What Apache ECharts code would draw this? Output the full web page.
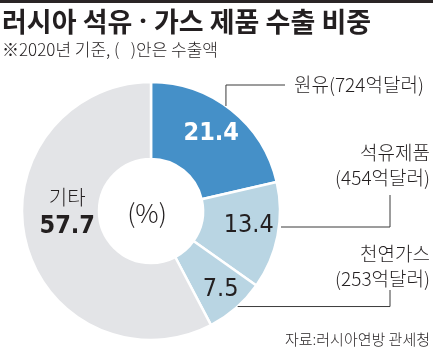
<!DOCTYPE html>
<html><head><meta charset="utf-8">
<script src="https://cdn.jsdelivr.net/npm/echarts@6/dist/echarts.min.js"></script>
<style>html,body{margin:0;padding:0;background:#fff}#c{width:433px;height:355px}#topline{position:absolute;left:0;top:0;width:433px;height:3px;background:#2a2526;z-index:5}</style>
</head><body><div id="c"></div><div id="topline"></div>
<script>
const titleText = '러시아 석유{d| · }가스 제품 수출 비중';
const subtitleText = '※2020년 기준, (   )안은 수출액';
const sourceText = '자료:러시아연방 관세청';
const unitText = '(%)';
const categories = ['원유', '석유제품', '천연가스', '기타'];
const shares = [21.4, 13.4, 7.5, 57.7];           // %
const exportAmounts = [724, 454, 253, null];       // 억달러

const CX = 151, CY = 211, R0 = 52, R = 129;
const KR = '"Noto Sans CJK KR", "Noto Sans", sans-serif';
const NUM = '"Liberation Sans Narrow", "DejaVu Sans Condensed", "Liberation Sans", Arial, sans-serif';
const colors = ['#4590c8', '#b9d5e3', '#b9d5e3', '#e3e4e7'];
const TXT = '#231f20';

function midAngle(i) { // degrees clockwise from top
  let s = 0; for (let k = 0; k < i; k++) s += shares[k];
  const tot = shares.reduce((a, b) => a + b, 0);
  return (s + shares[i] / 2) / tot * 360;
}
function edge(a) { const r = a * Math.PI / 180; return [CX + R * Math.sin(r), CY - R * Math.cos(r)]; }

const insideStyles = [
  { color: '#fff', fontWeight: 'bold', offset: [2, -4] },
  { color: TXT, fontWeight: 'normal', offset: [6, -4] },
  { color: TXT, fontWeight: 'normal', offset: [8, 8] },
  { color: TXT, fontWeight: 'bold', offset: [7, -21] }
];

const chart = echarts.init(document.getElementById('c'), null, { renderer: 'canvas' });
chart.setOption({
  animation: false,
  title: [
    { text: titleText, left: 2, top: 7, padding: 0, itemGap: 3,
      textStyle: { fontFamily: KR, fontSize: 27, fontWeight: 'bold', color: TXT, lineHeight: 30,
        rich: { d: { fontFamily: '"Noto Sans", sans-serif', fontSize: 27, fontWeight: 'bold', color: TXT, lineHeight: 30 } } },
      subtext: subtitleText,
      subtextStyle: { fontFamily: KR, fontSize: 17, fontWeight: 300, color: TXT, lineHeight: 20 } },
    { text: sourceText, right: 3, bottom: 8, padding: 0,
      textStyle: { fontFamily: KR, fontSize: 15, fontWeight: 300, color: TXT } }
  ],
  graphic: [{ type: 'text', x: 147, y: 213, style: { text: unitText, fontFamily: KR, fontSize: 26, fontWeight: 300, fill: TXT, textAlign: 'center', textVerticalAlign: 'middle' } }],
  series: [
    {
      type: 'pie', center: [CX, CY], radius: [R0, R], startAngle: 90, clockwise: true, silent: true,
      itemStyle: { borderColor: '#fff', borderWidth: 2.5 },
      label: { show: true, position: 'inside', fontFamily: NUM, fontSize: 25 },
      labelLine: { show: false },
      data: categories.map((c, i) => ({
        name: c, value: shares[i],
        itemStyle: { color: colors[i] },
        label: Object.assign({}, insideStyles[i], i === 3 ? {
          formatter: '{n|' + c + '}\n{v|' + shares[i].toFixed(1) + '}',
          rich: {
            n: { fontFamily: KR, fontSize: 20, fontWeight: 300, color: TXT, lineHeight: 28 },
            v: { fontFamily: NUM, fontSize: 25, fontWeight: 'bold', color: TXT, lineHeight: 30 }
          }
        } : { formatter: shares[i].toFixed(1) })
      }))
    },
    {
      type: 'pie', center: [CX, CY], radius: [R0, R], startAngle: 90, clockwise: true, silent: true, z: 3,
      itemStyle: { color: 'transparent', borderWidth: 0 },
      label: { show: true, position: 'outside', fontFamily: KR, fontSize: 19, fontWeight: 300, color: TXT, lineHeight: 25,
        formatter: p => {
          const amt = exportAmounts[p.dataIndex];
          return p.dataIndex === 0 ? p.name + '(' + amt + '억달러)' : p.name + '\n(' + amt + '억달러)';
        } },
      labelLine: { show: true, lineStyle: { color: '#3a3a3a', width: 1 } },
      labelLayout: function (p) {
        const i = p.dataIndex;
        if (i === 0) {
          const s = edge(midAngle(0) - 3);
          return { x: 294, y: 85, align: 'left', verticalAlign: 'middle',
            labelLinePoints: [s, [s[0], 85], [285, 85]] };
        }
        if (i === 1) {
          const y = 227; const s = [CX + Math.sqrt(R * R - (y - CY) * (y - CY)) + 2, y];
          return { x: 430, y: 165, align: 'right', verticalAlign: 'middle',
            labelLinePoints: [s, [390, y], [390, 195]] };
        }
        if (i === 2) {
          const s = edge(midAngle(2) - 1);
          return { x: 430, y: 266, align: 'right', verticalAlign: 'middle',
            labelLinePoints: [s, [390, s[1]], [390, 290]] };
        }
        return {};
      },
      data: categories.map((c, i) => ({
        name: c, value: shares[i],
        label: { show: exportAmounts[i] != null },
        labelLine: { show: exportAmounts[i] != null }
      }))
    }
  ]
});
</script></body></html>
